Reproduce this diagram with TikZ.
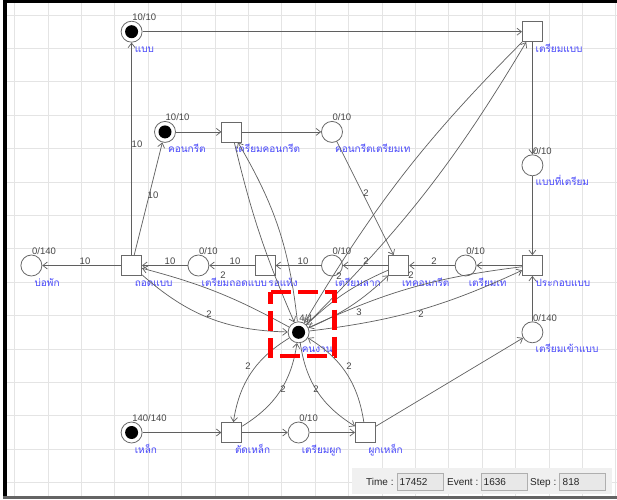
\documentclass[tikz,border=0pt]{standalone}
\usepackage{fontspec}
\setmainfont{Liberation Sans}
\newfontfamily\thai[Script=Thai]{Loma}
\usetikzlibrary{arrows.meta}
\definecolor{gridc}{RGB}{228,228,228}
\definecolor{edgec}{RGB}{105,105,105}
\definecolor{arcc}{RGB}{95,95,95}
\definecolor{lblc}{RGB}{70,70,250}
\definecolor{numc}{RGB}{70,70,70}
\definecolor{barc}{RGB}{240,240,240}
\definecolor{boxc}{RGB}{232,232,232}
\definecolor{boxb}{RGB}{175,175,175}
\definecolor{botc}{RGB}{100,100,100}
\newcommand\mkpl[5]{\node[place] (#1) at (#2,#3) {};
  \node[tk] (#1-k) at ([xshift=0.5pt,yshift=11pt]#1.center) {#4};
  \node[nm] (#1-n) at ([xshift=3pt,yshift=-20.5pt]#1.center) {#5};}
\newcommand\mktr[4]{\node[trans] (#1) at (#2,#3) {};
  \node[nm] (#1-n) at ([xshift=3pt,yshift=-20.5pt]#1.center) {#4};}
\newcommand\mktok[1]{\fill[black] (#1.center) circle[radius=6.5pt];}
\begin{document}
\begin{tikzpicture}[x=1pt,y=-1pt,
 place/.style={circle,draw=edgec,line width=0.8pt,fill=white,minimum size=21pt,inner sep=0pt},
 trans/.style={rectangle,draw=edgec,line width=0.8pt,fill=white,minimum size=20pt,inner sep=0pt},
 nm/.style={anchor=base west,inner sep=0pt,text=lblc,font=\thai\fontsize{10}{12}\selectfont},
 tk/.style={anchor=base west,inner sep=0pt,text=numc,font=\fontsize{9.5}{11}\selectfont},
 wt/.style={inner sep=0pt,text=numc,font=\fontsize{9.5}{11}\selectfont},
 arc/.style={draw=arcc,line width=0.7pt,-{Straight Barb[length=4.5pt,width=7pt]}},
 sbox/.style={draw=boxb,fill=boxc,line width=0.6pt,minimum width=46pt,minimum height=16.7pt,inner sep=0pt},
 stxt/.style={anchor=base west,inner sep=0pt,text=black!85,font=\fontsize{10}{12}\selectfont},
 ]
\useasboundingbox (0,0) rectangle (617,499);
\fill[white] (0,0) rectangle (617,499);
% grid
\foreach \k in {0,...,18} \draw[gridc,line width=0.9pt] ({14.7+33.4*\k},3) -- ({14.7+33.4*\k},496);
\foreach \k in {0,...,14} \draw[gridc,line width=0.9pt] (5,{15+33.4*\k}) -- (617,{15+33.4*\k});
% frame
\fill[black] (3.3,0) rectangle (617,2.7);
\fill[black] (3.3,0) rectangle (6.7,497);
\fill[botc] (3.3,496) rectangle (617,498.5);

% places
\mkpl{pbaeb}{131.6}{31.7}{10/10}{แบบ}
\mkpl{pkhon}{165.0}{131.9}{10/10}{คอนกรีต}
\mkpl{pkhonthe}{332.0}{131.9}{0/10}{คอนกรีตเตรียมเท}
\mkpl{pbaebthi}{532.4}{165.3}{0/10}{แบบที่เตรียม}
\mkpl{pbopak}{31.4}{265.5}{0/140}{บ่อพัก}
\mkpl{ptriamthod}{198.4}{265.5}{0/10}{เตรียมถอดแบบ}
\mkpl{ptriamlak}{332.0}{265.5}{0/10}{เตรียมลาก}
\mkpl{ptriamthe}{465.6}{265.5}{0/10}{เตรียมเท}
\mkpl{pworker}{298.6}{332.3}{4/4}{คนงาน}
\mkpl{ptriamkhao}{532.4}{332.3}{0/140}{เตรียมเข้าแบบ}
\mkpl{plek}{131.6}{432.5}{140/140}{เหล็ก}
\mkpl{ptriamphuk}{298.6}{432.5}{0/10}{เตรียมผูก}
\mktok{pbaeb}\mktok{pkhon}\mktok{pworker}\mktok{plek}
% transitions
\mktr{ttriambaeb}{532.4}{31.7}{เตรียมแบบ}
\mktr{ttriamkhon}{231.8}{131.9}{เตรียมคอนกรีต}
\mktr{tthod}{131.6}{265.5}{ถอดแบบ}
\mktr{trohaeng}{265.2}{265.5}{รอแห้ง}
\mktr{tthe}{398.8}{265.5}{เทคอนกรีต}
\mktr{tprakob}{532.4}{265.5}{ประกอบแบบ}
\mktr{ttad}{231.8}{432.5}{ตัดเหล็ก}
\mktr{tphuk}{365.4}{432.5}{ผูกเหล็ก}

% main arcs
\draw[arc] (pbaeb) -- (ttriambaeb);
\draw[arc] (tthod) -- (pbaeb);
\draw[arc] (tthod) -- (pkhon);
\draw[arc] (pkhon) -- (ttriamkhon);
\draw[arc] (ttriamkhon) -- (pkhonthe);
\draw[arc] (pkhonthe) -- (tthe);
\draw[arc] (ttriambaeb) -- (pbaebthi);
\draw[arc] (pbaebthi) -- (tprakob);
\draw[arc] (ptriamkhao) -- (tprakob);
\draw[arc] (tprakob) -- (ptriamthe);
\draw[arc] (ptriamthe) -- (tthe);
\draw[arc] (tthe) -- (ptriamlak);
\draw[arc] (ptriamlak) -- (trohaeng);
\draw[arc] (trohaeng) -- (ptriamthod);
\draw[arc] (ptriamthod) -- (tthod);
\draw[arc] (tthod) -- (pbopak);
\draw[arc] (plek) -- (ttad);
\draw[arc] (ttad) -- (ptriamphuk);
\draw[arc] (ptriamphuk) -- (tphuk);
\draw[arc] (tphuk) -- (ptriamkhao);
% worker arcs
\draw[arc] (pworker) to[bend right=7] (tthod);
\draw[arc] (tthod) to[bend right=20] (pworker);
\draw[arc] (pworker) to[bend right=10] (tthe);
\draw[arc] (tthe) to[bend right=10] (pworker);
\draw[arc] (pworker) to[bend right=9] (tprakob);
\draw[arc] (tprakob) to[bend right=9] (pworker);
\draw[arc] (pworker) to[bend right=12] (ttriamkhon);
\draw[arc] (ttriamkhon) to[bend right=5] (pworker);
\draw[arc] (pworker) to[bend right=7] (ttriambaeb);
\draw[arc] (ttriambaeb) to[bend right=7] (pworker);
\draw[arc] (pworker) to[bend right=25] (ttad);
\draw[arc] (ttad) to[bend right=25] (pworker);
\draw[arc] (pworker) to[bend right=25] (tphuk);
\draw[arc] (tphuk) to[bend right=25] (pworker);

% weights
\node[wt] (w1) at (137,144) {10};
\node[wt] (w2) at (153,195) {10};
\node[wt] (w3) at (85,261.5) {10};
\node[wt] (w4) at (170,261.5) {10};
\node[wt] (w5) at (235,261.5) {10};
\node[wt] (w6) at (303,261.5) {10};
\node[wt] (w7) at (366,261.5) {2};
\node[wt] (w8) at (434,261.5) {2};
\node[wt] (w9) at (366,193) {2};
\node[wt] (w10) at (223,275) {2};
\node[wt] (w11) at (209,314) {2};
\node[wt] (w12) at (339,276) {2};
\node[wt] (w13) at (359,312) {3};
\node[wt] (w14) at (411,275) {2};
\node[wt] (w15) at (421,314) {2};
\node[wt] (w16) at (248,366) {2};
\node[wt] (w17) at (283,389) {2};
\node[wt] (w18) at (316,389) {2};
\node[wt] (w19) at (349,366) {2};

% highlight
\draw[red,line width=4.8pt,dash pattern=on 20pt off 7pt] (270.8,292) -- (334.2,292) -- (334.2,356) -- (270.8,356) -- cycle;

% status bar
\fill[barc] (352,467.5) rectangle (612,493.5);
\node[stxt] (lt) at (366,485.5) {Time :};
\node[sbox] (bt) at (420,481.7) {};
\node[stxt] (vt) at (399.5,485.5) {17452};
\node[stxt] (le) at (447,485.5) {Event :};
\node[sbox] (be) at (504,481.7) {};
\node[stxt] (ve) at (483.5,485.5) {1636};
\node[stxt] (ls) at (530,485.5) {Step :};
\node[sbox] (bs) at (582.5,481.7) {};
\node[stxt] (vs) at (562.5,485.5) {818};
\end{tikzpicture}
\end{document}
